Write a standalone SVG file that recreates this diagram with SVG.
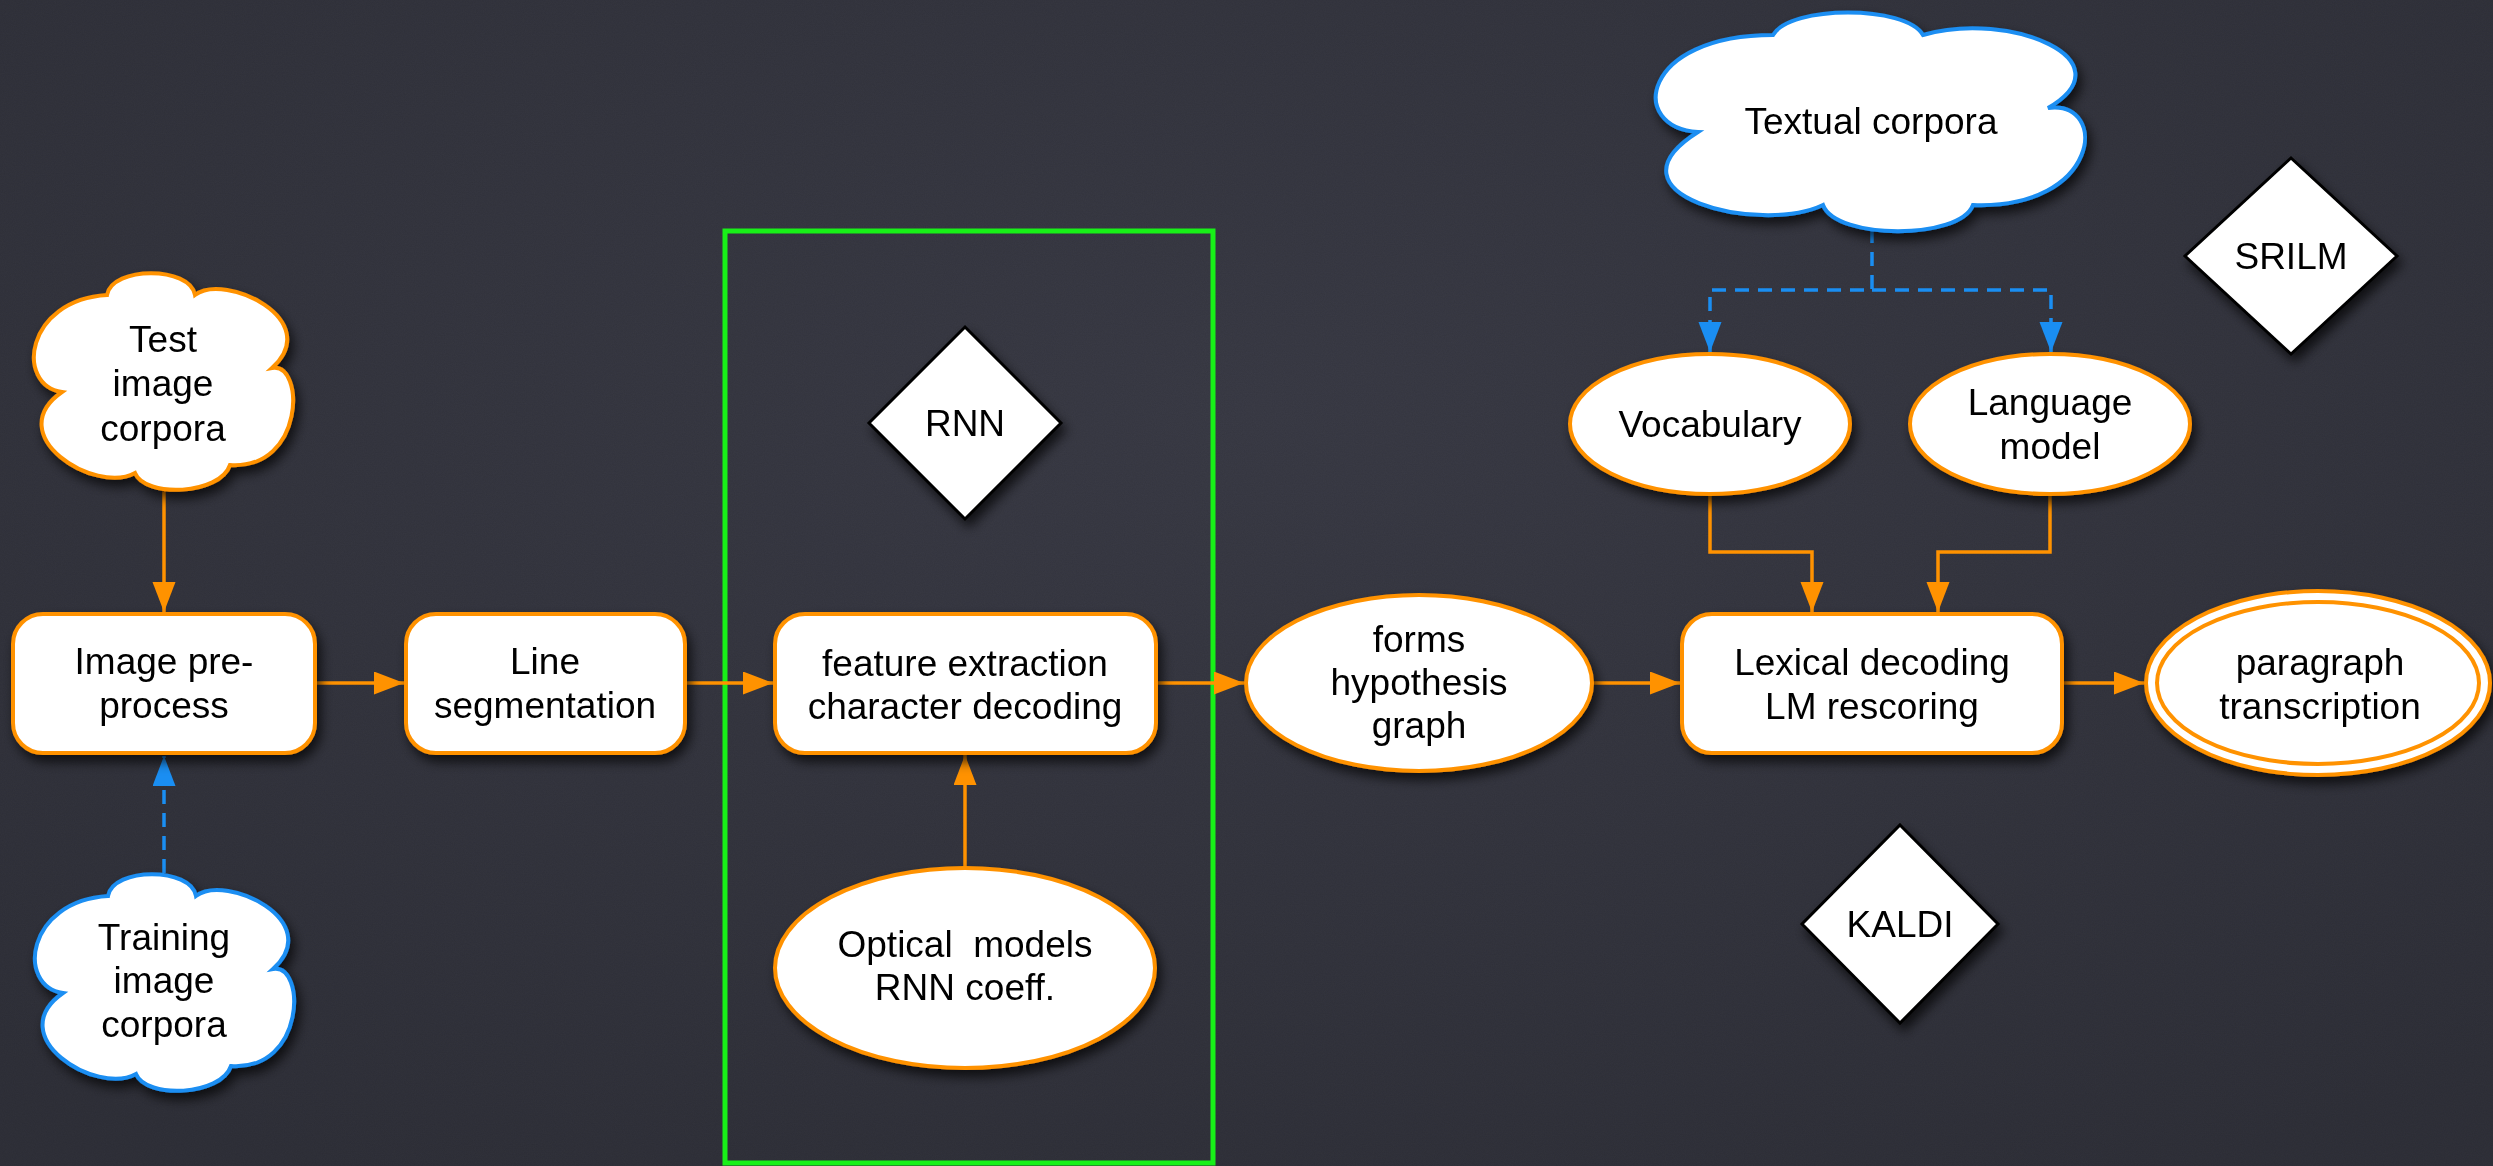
<svg xmlns="http://www.w3.org/2000/svg" width="2493" height="1166" viewBox="0 0 2493 1166">
<style>
text{font-family:"Liberation Sans",Arial,Helvetica,sans-serif;font-size:37px;fill:#000;text-anchor:middle}
.nd{fill:#fff;stroke:#FF9200;stroke-width:4}
.cl-o{fill:#fff;stroke:#FF9200;stroke-width:4}
.cl-b{fill:#fff;stroke:#1A8EF2;stroke-width:4}
.dm{fill:#fff;stroke:#000;stroke-width:3}
.co{fill:none;stroke:#FF9200;stroke-width:3.5}
.cb{fill:none;stroke:#1A8EF2;stroke-width:3.5;stroke-dasharray:14 9}
</style>
<defs>
<radialGradient id="bg" cx="50%" cy="35%" r="75%">
<stop offset="0" stop-color="#3b3c47"/>
<stop offset="1" stop-color="#30313a"/>
</radialGradient>
<filter id="noise" x="0" y="0" width="100%" height="100%">
<feTurbulence type="fractalNoise" baseFrequency="0.9" numOctaves="2" seed="3"/>
<feColorMatrix type="matrix" values="0 0 0 0 0  0 0 0 0 0  0 0 0 0 0  0 0 0 0.10 0"/>
</filter>
<filter id="sh" x="-20%" y="-20%" width="140%" height="150%">
<feDropShadow dx="4" dy="7" stdDeviation="6" flood-color="#000" flood-opacity="0.7"/>
</filter>
<marker id="ao" markerUnits="userSpaceOnUse" markerWidth="32" markerHeight="24" refX="30" refY="11.5" orient="auto">
<path d="M0,0 L30,11.5 L0,23 z" fill="#FF9200"/>
</marker>
<marker id="ab" markerUnits="userSpaceOnUse" markerWidth="32" markerHeight="24" refX="30" refY="11.5" orient="auto">
<path d="M0,0 L30,11.5 L0,23 z" fill="#1A8EF2"/>
</marker>
<path id="smallcloud" d="M107,295 C112,266 190,266 195,295 C225,272 325,320 272,368 C305,362 305,470 230,465 C220,495 145,498 135,473 C95,495 0,435 62,392 C15,385 25,300 107,295 Z"/>
</defs>
<rect width="2493" height="1166" fill="url(#bg)"/>
<rect width="2493" height="1166" filter="url(#noise)"/>

<g id="rnn-frame">
<rect x="725" y="231" width="488" height="932" fill="none" stroke="#18F018" stroke-width="5"/>
</g>

<g id="connectors">
<path class="co" d="M164,488 V612" marker-end="url(#ao)"/>
<path class="cb" d="M164,873 V756" marker-end="url(#ab)"/>
<path class="co" d="M315,683 H404" marker-end="url(#ao)"/>
<path class="co" d="M685,683 H773" marker-end="url(#ao)"/>
<path class="co" d="M1156,683 H1244" marker-end="url(#ao)"/>
<path class="co" d="M1592,683 H1680" marker-end="url(#ao)"/>
<path class="co" d="M2062,683 H2144" marker-end="url(#ao)"/>
<path class="co" d="M965,868 V755" marker-end="url(#ao)"/>
<path class="co" d="M1710,494 V552 H1812 V612" marker-end="url(#ao)"/>
<path class="co" d="M2050,494 V552 H1938 V612" marker-end="url(#ao)"/>
<path class="cb" d="M1872,229 V290 H1710 V352" marker-end="url(#ab)"/>
<path class="cb" d="M1872,290 H2051 V352" marker-end="url(#ab)"/>
</g>

<g id="test-corpora" filter="url(#sh)">
<use href="#smallcloud" class="cl-o"/>
<text x="163" y="352">Test</text>
<text x="163" y="396">image</text>
<text x="163" y="441">corpora</text>
</g>

<g id="training-corpora" filter="url(#sh)">
<use href="#smallcloud" class="cl-b" transform="translate(1,601)"/>
<text x="164" y="950">Training</text>
<text x="164" y="993">image</text>
<text x="164" y="1037">corpora</text>
</g>

<g id="image-preprocess" filter="url(#sh)">
<rect class="nd" x="13" y="614" width="302" height="139" rx="30"/>
<text x="164" y="674">Image pre-</text>
<text x="164" y="718">process</text>
</g>

<g id="line-segmentation" filter="url(#sh)">
<rect class="nd" x="406" y="614" width="279" height="139" rx="30"/>
<text x="545" y="674">Line</text>
<text x="545" y="718">segmentation</text>
</g>

<g id="rnn" filter="url(#sh)">
<polygon class="dm" points="965,327 1061,423 965,519 869,423"/>
<text x="965" y="436">RNN</text>
</g>

<g id="feature-extraction" filter="url(#sh)">
<rect class="nd" x="775" y="614" width="381" height="139" rx="30"/>
<text x="965" y="676">feature extraction</text>
<text x="965" y="719">character decoding</text>
</g>

<g id="optical-models" filter="url(#sh)">
<ellipse class="nd" cx="965" cy="968" rx="190" ry="100"/>
<text x="965" y="957" xml:space="preserve">Optical  models</text>
<text x="965" y="1000">RNN coeff.</text>
</g>

<g id="forms-graph" filter="url(#sh)">
<ellipse class="nd" cx="1419" cy="683" rx="173" ry="88"/>
<text x="1419" y="652">forms</text>
<text x="1419" y="695">hypothesis</text>
<text x="1419" y="738">graph</text>
</g>

<g id="textual-corpora" filter="url(#sh)">
<path class="cl-b" d="M1698,132 C1628,128 1640,35 1773,35 C1790,5 1906,5 1923,35 C2010,10 2130,60 2048,108 C2110,100 2100,210 1973,205 C1960,240 1836,240 1823,205 C1760,235 1598,195 1698,132 Z"/>
<text x="1871" y="134">Textual corpora</text>
</g>

<g id="vocabulary" filter="url(#sh)">
<ellipse class="nd" cx="1710" cy="424" rx="140" ry="70"/>
<text x="1710" y="437">Vocabulary</text>
</g>

<g id="language-model" filter="url(#sh)">
<ellipse class="nd" cx="2050" cy="424" rx="140" ry="70"/>
<text x="2050" y="415">Language</text>
<text x="2050" y="459">model</text>
</g>

<g id="srilm" filter="url(#sh)">
<polygon class="dm" points="2291,158 2397,256 2291,354 2185,256"/>
<text x="2291" y="269">SRILM</text>
</g>

<g id="lexical-decoding" filter="url(#sh)">
<rect class="nd" x="1682" y="614" width="380" height="139" rx="30"/>
<text x="1872" y="675">Lexical decoding</text>
<text x="1872" y="719">LM rescoring</text>
</g>

<g id="kaldi" filter="url(#sh)">
<polygon class="dm" points="1900,825 1998,924 1900,1023 1802,924"/>
<text x="1900" y="937">KALDI</text>
</g>

<g id="paragraph-transcription" filter="url(#sh)">
<ellipse class="nd" cx="2318" cy="683" rx="172" ry="92"/>
<ellipse fill="none" stroke="#FF9200" stroke-width="4" cx="2318" cy="683" rx="161" ry="81"/>
<text x="2320" y="675">paragraph</text>
<text x="2320" y="719">transcription</text>
</g>
</svg>
